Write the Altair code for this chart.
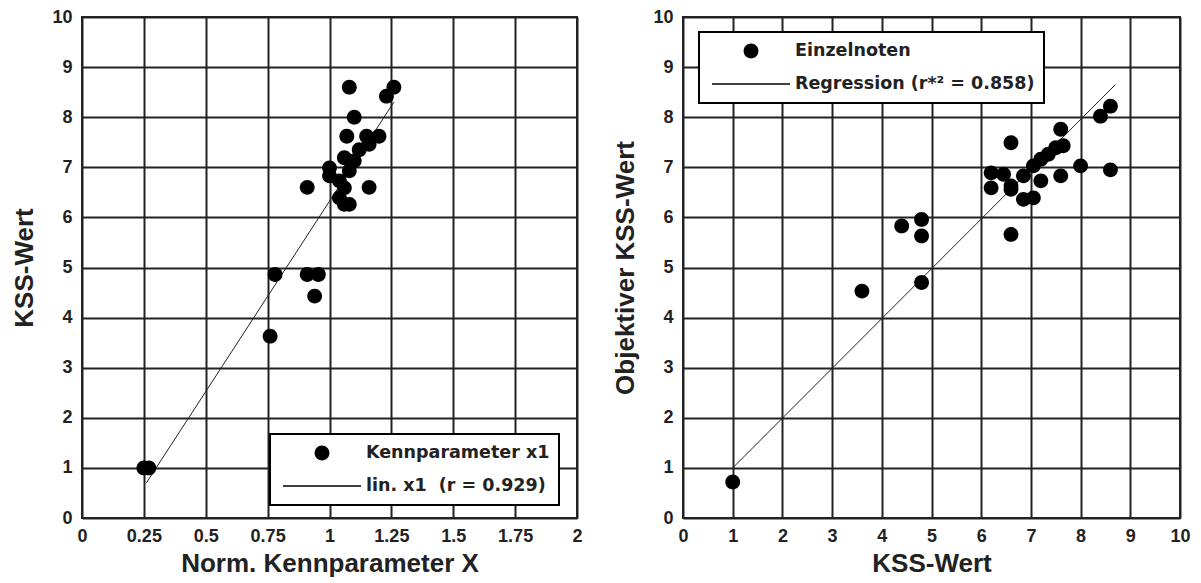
import altair as alt
import pandas as pd

# ---------------- left panel data ----------------
left_x = [0.25, 0.27, 0.76, 0.78, 0.91, 0.955, 0.94, 0.91, 1.16, 1.08, 1.26, 1.23,
          1.10, 1.07, 1.15, 1.20, 1.16, 1.12, 1.06, 1.10, 1.00, 1.00, 1.04, 1.08,
          1.06, 1.04, 1.06, 1.08]
left_y = [1.0, 1.0, 3.63, 4.86, 4.86, 4.86, 4.43, 6.6, 6.6, 8.6, 8.6, 8.42,
          8.0, 7.62, 7.62, 7.62, 7.46, 7.35, 7.19, 7.13, 6.99, 6.83, 6.73, 6.93,
          6.59, 6.39, 6.26, 6.26]
left_fit_x = [0.26, 1.26]
left_fit_y = [0.70, 8.30]
left_series = ["Kennparameter x1", "lin. x1\u00a0\u00a0(r = 0.929)"]
left_x_ticks = [0, 0.25, 0.5, 0.75, 1, 1.25, 1.5, 1.75, 2]
left_y_ticks = [0, 1, 2, 3, 4, 5, 6, 7, 8, 9, 10]

# ---------------- right panel data ----------------
right_x = [1.0, 3.6, 4.4, 4.8, 4.8, 4.8, 6.6, 6.2, 6.45, 6.2, 6.6, 6.6, 6.85, 6.85,
           7.05, 7.05, 7.2, 7.35, 7.5, 7.65, 7.2, 7.6, 8.0, 8.6, 6.6, 7.6, 8.4, 8.6]
right_y = [0.72, 4.53, 5.83, 5.96, 5.63, 4.70, 5.66, 6.89, 6.86, 6.59, 6.63, 6.56, 6.83, 6.36,
           6.39, 7.03, 7.16, 7.26, 7.39, 7.43, 6.73, 6.83, 7.03, 6.95, 7.49, 7.76, 8.02, 8.22]
right_fit_x = [1.0, 8.7]
right_fit_y = [1.0, 8.65]
right_series = ["Einzelnoten", "Regression (r*\u00b2 = 0.858)"]
right_x_ticks = [0, 1, 2, 3, 4, 5, 6, 7, 8, 9, 10]
right_y_ticks = [0, 1, 2, 3, 4, 5, 6, 7, 8, 9, 10]

# legend symbol shapes (unit box -1..1, scaled by sqrt(size)/2)
DOT = "M-0.19,0A0.19,0.19 0 1,0 0.19,0A0.19,0.19 0 1,0 -0.19,0Z"
DASH = "M-1,-0.022H1V0.022H-1Z"
SYM_SIZE = 6084

INK = "#222222"
LABEL_EXPR = "format(datum.value, '')"


def panel(xs, ys, fx, fy, series, xdom, xticks, yticks, xtitle, ytitle, w, lx, ly):
    pts = pd.DataFrame({"x": xs, "y": ys, "s": [series[0]] * len(xs)})
    fit = pd.DataFrame({"x": fx, "y": fy})
    xenc = alt.X("x:Q", scale=alt.Scale(domain=xdom, nice=False, zero=False),
                 axis=alt.Axis(values=xticks, title=xtitle, labelExpr=LABEL_EXPR,
                               labelPadding=9, titlePadding=5))
    yenc = alt.Y("y:Q", scale=alt.Scale(domain=[0, 10], nice=False, zero=False),
                 axis=alt.Axis(values=yticks, title=ytitle, labelExpr=LABEL_EXPR,
                               labelPadding=10, titlePadding=14))
    legend = alt.Legend(
        title=None, orient="none", legendX=lx, legendY=ly, direction="vertical",
        fillColor="white", strokeColor="black", padding=9, rowPadding=13,
        clipHeight=20, symbolOffset=4, labelOffset=5, labelLimit=500,
        labelFont="DejaVu Sans", labelFontWeight="bold", labelFontSize=17.5,
        labelColor=INK, symbolSize=SYM_SIZE, symbolStrokeColor="black",
        symbolFillColor="black", symbolStrokeWidth=0, symbolOpacity=1,
    )
    line = alt.Chart(fit).mark_line(color=INK, strokeWidth=1).encode(x=xenc, y=yenc)
    dots = alt.Chart(pts).mark_point(
        filled=True, size=SYM_SIZE, color="black", opacity=1
    ).encode(
        x=xenc, y=yenc,
        shape=alt.Shape("s:N", scale=alt.Scale(domain=series, range=[DOT, DASH]),
                        legend=legend),
    )
    return alt.layer(line, dots).properties(width=w, height=501)


left = panel(left_x, left_y, left_fit_x, left_fit_y, left_series, [0, 2],
             left_x_ticks, left_y_ticks, "Norm. Kennparameter X", "KSS-Wert",
             495, 188, 417)
right = panel(right_x, right_y, right_fit_x, right_fit_y, right_series, [0, 10],
              right_x_ticks, right_y_ticks, "KSS-Wert", "Objektiver KSS-Wert",
              497, 16, 15)

chart = alt.hconcat(left, right, spacing=27).resolve_scale(
    shape="independent", x="independent", y="independent"
).resolve_legend(shape="independent").properties(
    padding={"left": 10, "top": 7, "right": 5, "bottom": 0},
    background="white",
).configure_axis(
    grid=True, gridColor=INK, gridWidth=2, gridOpacity=1,
    domain=False, ticks=False, tickSize=0, labelFlush=False, labelOverlap=False,
    labelFont="Liberation Sans", labelFontWeight="bold", labelFontSize=18,
    labelColor=INK, titleFont="Liberation Sans", titleFontWeight="bold",
    titleFontSize=26, titleColor=INK,
).configure_view(stroke=INK, strokeWidth=2).configure_legend(strokeWidth=2)

chart.save("out.html", embed_options={"renderer": "svg", "actions": False})
